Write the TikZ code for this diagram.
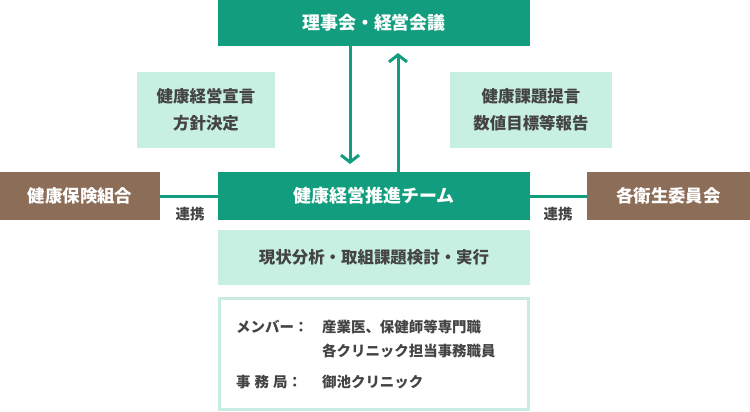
\documentclass[tikz,border=0pt]{standalone}
\usepackage{fontspec}
\setmainfont{Noto Sans CJK JP}
\usetikzlibrary{arrows.meta}
\definecolor{dg}{HTML}{129E7E}
\definecolor{lg}{HTML}{C8F0E2}
\definecolor{br}{HTML}{8C6D58}
\definecolor{tx}{HTML}{444444}
\begin{document}
\begin{tikzpicture}[x=1bp,y=-1bp,
 dark/.style={fill=dg,draw=none,text=white,font=\fontsize{18}{20}\selectfont\bfseries,inner sep=0},
 light/.style={fill=lg,draw=none,text=tx,font=\fontsize{16.5}{27}\selectfont\bfseries,align=center,inner sep=0},
 brown/.style={fill=br,draw=none,text=white,font=\fontsize{17.5}{20}\selectfont\bfseries,inner sep=0},
 lab/.style={text=tx,font=\fontsize{14.5}{16}\selectfont\bfseries,inner sep=0},
 arr/.style={draw=dg,line width=3bp,-{Straight Barb[length=7bp,width=18bp]}}]
\useasboundingbox (0,0) rectangle (750,411);
\node[dark,minimum width=312bp,minimum height=46bp] (top) at (374,23) {理事会・経営会議};
\node[dark,minimum width=312bp,minimum height=48bp] (mid) at (374,196) {健康経営推進チーム};
\node[light,minimum width=138bp,minimum height=76bp] (l1) at (206,110) {健康経営宣言\\方針決定};
\node[light,minimum width=162bp,minimum height=76bp] (r1) at (531,110) {健康課題提言\\数値目標等報告};
\node[brown,minimum width=160bp,minimum height=48bp] (hk) at (80,196) {健康保険組合};
\node[brown,minimum width=163bp,minimum height=48bp] (ei) at (668.5,196) {各衛生委員会};
\node[light,minimum width=312bp,minimum height=55bp] (gs) at (374,257.5) {現状分析・取組課題検討・実行};
\draw[lg!80!dg!60,line width=3bp] (219.5,298.5) rectangle (528.5,409.5);
\coordinate (a1) at (350,46); \coordinate (a2) at (350,164);
\coordinate (b1) at (398,172); \coordinate (b2) at (398,53);
\draw[arr] (a1) -- (a2);
\draw[arr] (b1) -- (b2);
\draw[dg,line width=3bp] (hk.east) -- (mid.west);
\draw[dg,line width=3bp] (mid.east) -- (ei.west);
\node[lab] at (190,214) {連携};
\node[lab] at (558,214) {連携};
\node[lab,anchor=west] at (236,327) {メンバー：};
\node[lab,anchor=west] at (322,327) {産業医、保健師等専門職};
\node[lab,anchor=west] at (322,351) {各クリニック担当事務職員};
\node[lab,anchor=west] at (236,382) {事\hspace{4bp}務\hspace{4bp}局：};
\node[lab,anchor=west] at (322,382) {御池クリニック};
\end{tikzpicture}
\end{document}
